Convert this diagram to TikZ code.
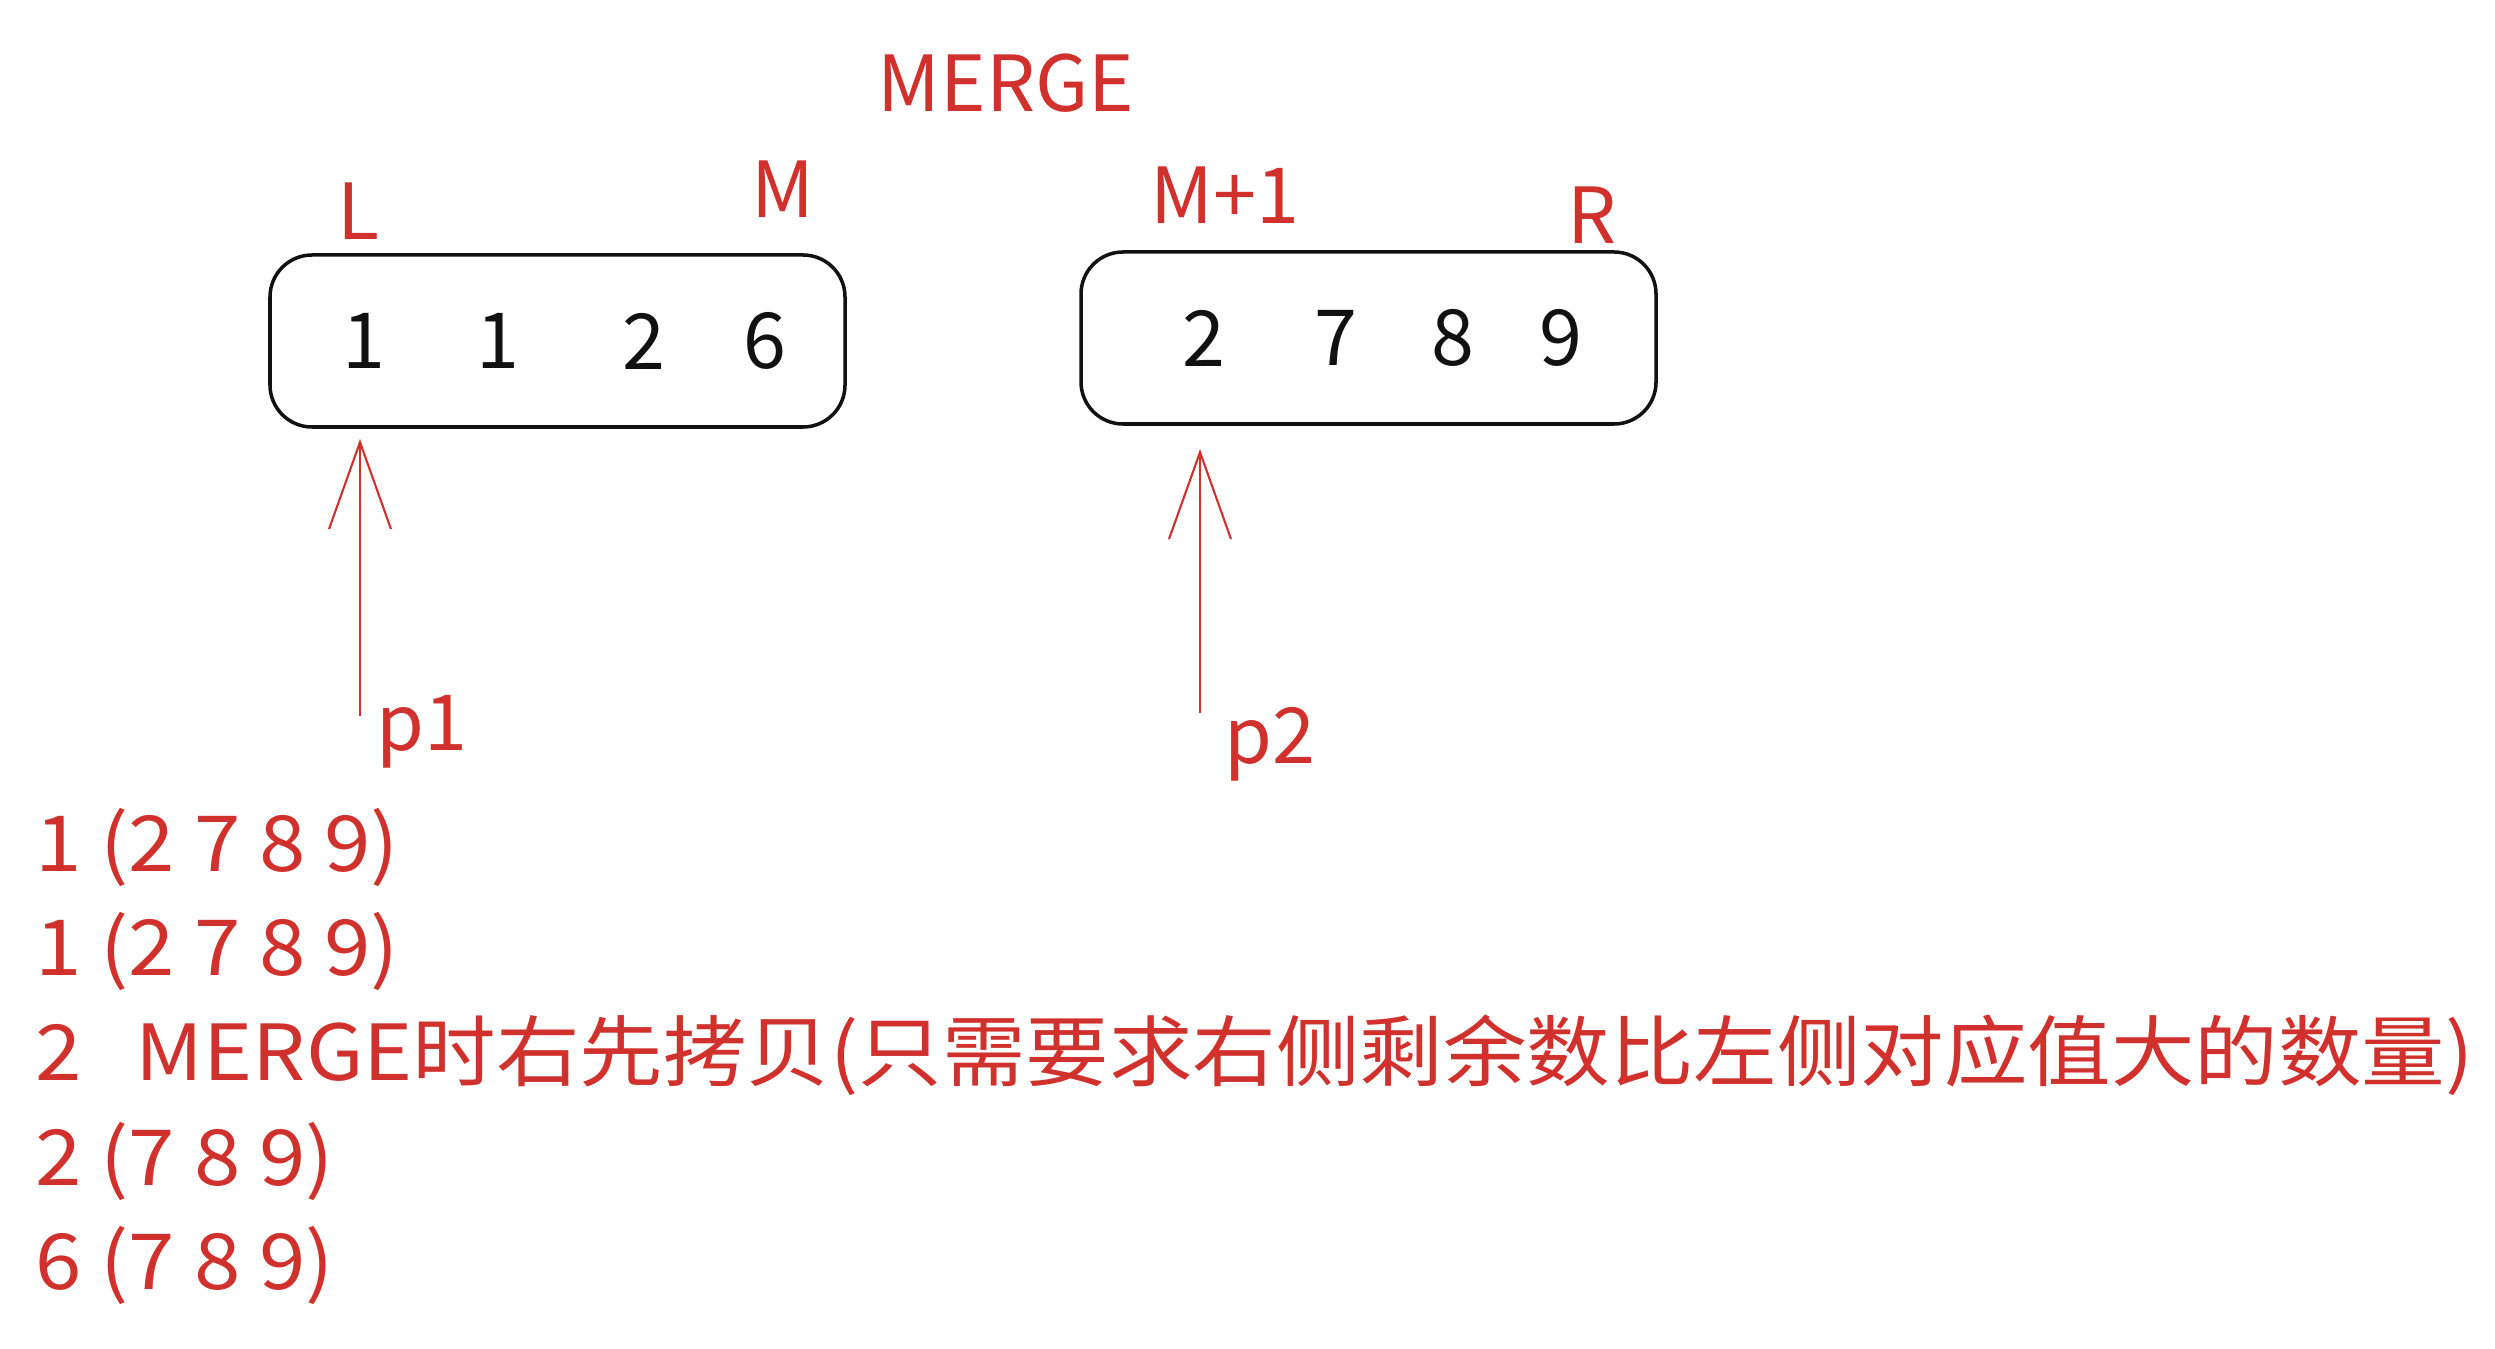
\documentclass[tikz,border=0pt]{standalone}
\usepackage{fontspec}
\setmainfont{Noto Sans CJK SC}
\usetikzlibrary{arrows.meta,positioning}
\definecolor{hongSe}{HTML}{D0312D}
\definecolor{heiSe}{HTML}{111111}
\newcommand{\kuan}[1]{\scalebox{1.08}[1]{#1}}

\begin{document}
\begin{tikzpicture}[every node/.style={font=\fontsize{22}{26}\selectfont},
  kuang/.style={draw=heiSe,line width=1pt,rounded corners=0.42cm,
               minimum width=5.75cm,minimum height=1.72cm},
  biao/.style={text=hongSe,inner sep=1pt},
  shu/.style={text=heiSe,inner sep=1pt},
  zhizhen/.style={hongSe,line width=0.6pt,-{Straight Barb[length=8.7mm,width=6.2mm]}},
  hang/.style={text=hongSe,anchor=west,inner sep=0pt}]
\useasboundingbox (0,0) rectangle (24.95,-13.49);
\node[biao] (merge) at (10.06,-0.83) {MERGE};
% left half
\node[kuang] (zuo) at (5.575,-3.41) {};
\node[biao] (L) at (3.58,-2.11) {L};
\node[biao] (M) at (7.83,-1.89) {M};
\node[shu] (a1) at (3.64,-3.41) {1};
\node[shu] (a2) at (4.98,-3.41) {1};
\node[shu] (a3) at (6.44,-3.41) {2};
\node[shu] (a4) at (7.65,-3.41) {6};
% right half
\node[kuang] (you) at (13.685,-3.38) {};
\node[biao] (M1) at (12.25,-1.95) {M+1};
\node[biao] (R) at (15.92,-2.15) {R};
\node[shu] (b1) at (12.04,-3.38) {2};
\node[shu] (b2) at (13.36,-3.38) {7};
\node[shu] (b3) at (14.53,-3.38) {8};
\node[shu] (b4) at (15.61,-3.38) {9};
% pointers
\coordinate (w1) at (3.60,-7.16);
\coordinate (t1) at (3.60,-4.39);
\coordinate (w2) at (12.00,-7.13);
\coordinate (t2) at (12.00,-4.49);
\draw[zhizhen] (w1)--(t1);
\draw[zhizhen] (w2)--(t2);
\node[biao] (p1) at (4.22,-7.32) {p1};
\node[biao] (p2) at (12.70,-7.44) {p2};
% steps
\node[hang] (h1) at (0.35,-8.47) {\kuan{1 (2 7 8 9)}};
\node[hang] (h2) at (0.35,-9.51) {\kuan{1 (2 7 8 9)}};
\node[hang] (h3) at (0.35,-10.55) {\kuan{2\hspace{0.5cm}MERGE时右先拷贝(只需要求右侧剩余数比左侧对应值大的数量)}};
\node[hang] (h4) at (0.35,-11.61) {\kuan{2 (7 8 9)}};
\node[hang] (h5) at (0.35,-12.65) {\kuan{6 (7 8 9)}};
\end{tikzpicture}
\end{document}
